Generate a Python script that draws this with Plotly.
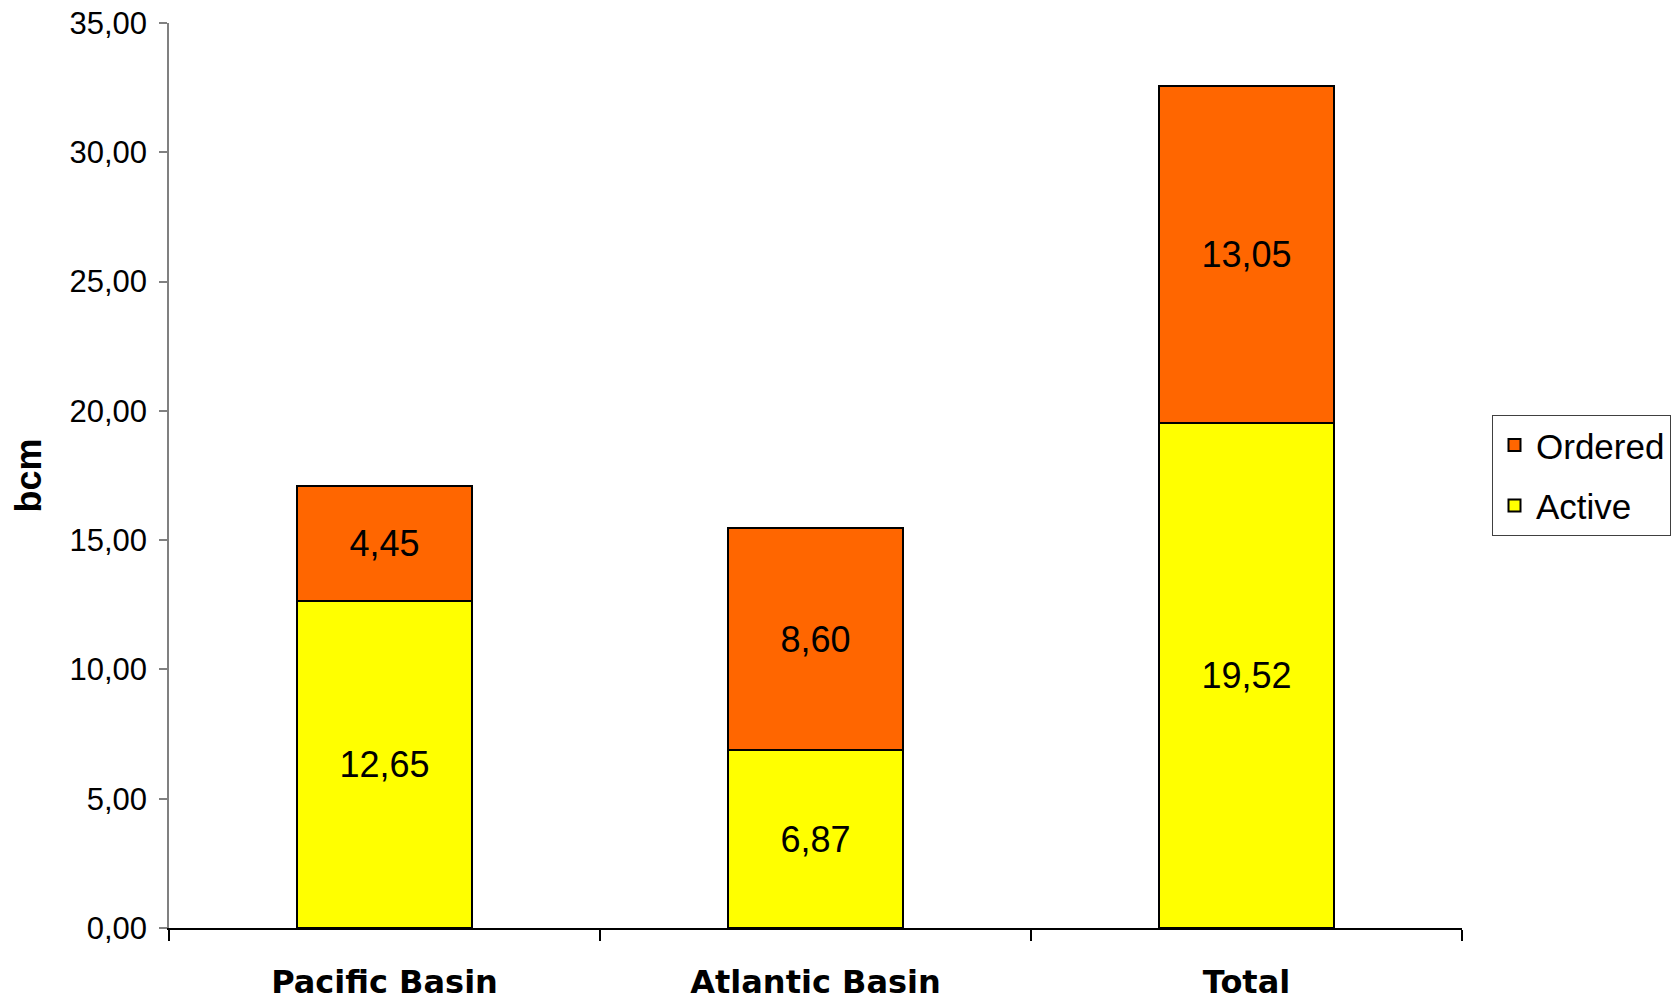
import plotly.graph_objects as go

# LNG fleet capacity by basin (bcm)
categories = ["Pacific Basin", "Atlantic Basin", "Total"]
active = [12.65, 6.87, 19.52]
ordered = [4.45, 8.60, 13.05]
y_ticks = [0, 5, 10, 15, 20, 25, 30, 35]

font_family = "Liberation Sans, Arial, Helvetica, sans-serif"

fig = go.Figure()

fig.add_trace(go.Bar(
    x=categories, y=active, name="Active",
    marker=dict(color="#FFFF00", line=dict(color="#000000", width=2)),
    texttemplate="%{y:.2f}", textposition="inside", insidetextanchor="middle",
    textangle=0, constraintext="none",
    insidetextfont=dict(family=font_family, size=36, color="#000000"),
    legendgroup="active", legendrank=2,
))
fig.add_trace(go.Bar(
    x=categories, y=ordered, name="Ordered",
    marker=dict(color="#FF6600", line=dict(color="#000000", width=2)),
    texttemplate="%{y:.2f}", textposition="inside", insidetextanchor="middle",
    textangle=0, constraintext="none",
    insidetextfont=dict(family=font_family, size=36, color="#000000"),
    legendgroup="ordered", legendrank=1,
))

fig.update_layout(
    width=1676, height=1000,
    margin=dict(l=169, r=214, t=23, b=72, autoexpand=False),
    paper_bgcolor="white", plot_bgcolor="white",
    barmode="stack", bargap=0.594,
    separators=",.",
    font=dict(family=font_family, color="#000000"),
    showlegend=True,
    legend=dict(
        x=1.0232, xanchor="left", y=0.567, yanchor="top",
        traceorder="grouped", tracegroupgap=12, itemwidth=33,
        bordercolor="#404040", borderwidth=1, bgcolor="white",
        font=dict(family=font_family, size=35, color="#000000"),
    ),
    xaxis=dict(
        type="category", automargin=False,
        showline=True, linecolor="#000000", linewidth=1.5,
        ticks="outside", tickson="boundaries", ticklen=11,
        tickcolor="#000000", tickwidth=1.5,
        ticklabelstandoff=25,
        tickfont=dict(family="DejaVu Sans, sans-serif", size=32, color="#000000", weight="bold"),
        showgrid=False, zeroline=False,
    ),
    yaxis=dict(
        range=[0, 35], tickvals=y_ticks, tickformat=".2f", automargin=False,
        showline=True, linecolor="#808080", linewidth=1.5,
        ticks="outside", ticklen=8, tickcolor="#808080", tickwidth=1.5,
        ticklabelstandoff=6,
        tickfont=dict(family=font_family, size=31, color="#000000"),
        showgrid=False, zeroline=False,
        title=dict(text="bcm", standoff=17,
                   font=dict(family=font_family, size=36, color="#000000", weight="bold")),
    ),
)

fig.write_html("out.html")
